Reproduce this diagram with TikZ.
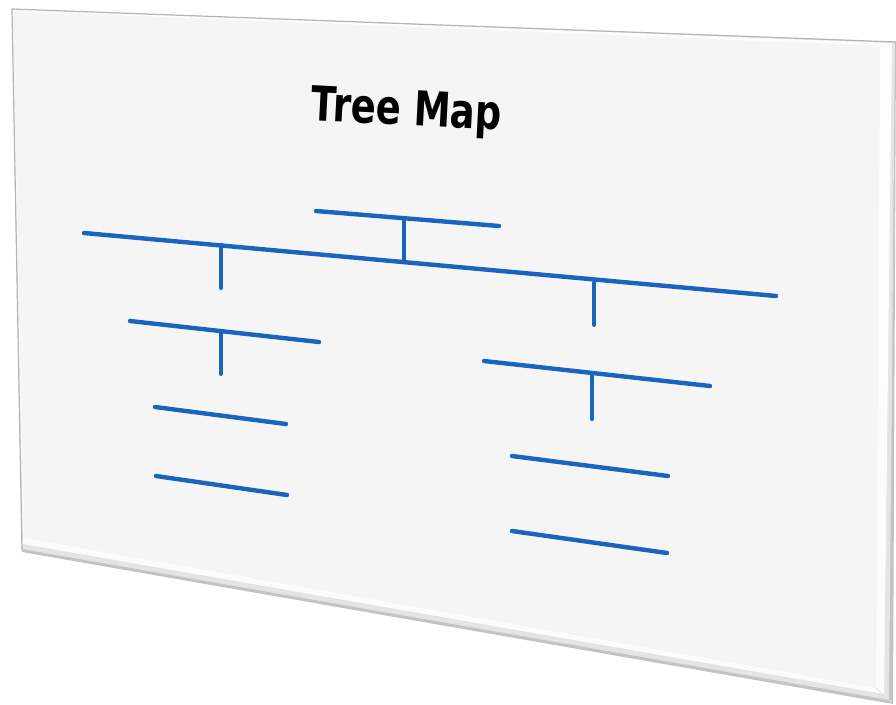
\documentclass[tikz,border=0pt]{standalone}
\usepackage{fontspec}
\newfontfamily\titlefont{DejaVu Sans}
\definecolor{treeblue}{RGB}{24,100,190}
\definecolor{faceclr}{RGB}{245,245,245}
\definecolor{bevelhi}{RGB}{252,252,252}
\definecolor{bevelmid}{RGB}{228,228,228}
\definecolor{bevellow}{RGB}{195,195,195}
\definecolor{edgeclr}{RGB}{180,180,180}
\tikzset{
  branch/.style={draw=treeblue, line width=4.4pt, line cap=round},
  stem/.style={draw=treeblue, line width=4pt, line cap=round},
}
\begin{document}
\begin{tikzpicture}[x=1pt,y=-1pt]
\useasboundingbox (0,0) rectangle (896,704);
% board with bevel
\fill[bevellow] (12,9) -- (896,42) -- (893,704) -- (22,552) -- cycle;
\fill[bevelmid] (12,9) -- (895,42) -- (889,700) -- (22,549) -- cycle;
\fill[bevelhi] (12,9) -- (892,43) -- (884,694) -- (23,544) -- cycle;
\fill[faceclr] (13,11) -- (880,46) -- (876,688) -- (24,538) -- cycle;
\draw[edgeclr, line width=1.2pt] (22,550) -- (12,9) -- (896,42);
\draw[bevelmid, line width=0.8pt] (876,688) -- (891,702);
% title
\node[anchor=base, rotate=-3, xscale=0.77, inner sep=0, font=\titlefont\bfseries\fontsize{48}{56}\selectfont] (title) at (406,125) {Tree Map};
% coordinates
\coordinate (t1) at (316,211); \coordinate (t2) at (499,226); \coordinate (tm) at (404,219);
\coordinate (m1) at (84,233);  \coordinate (m2) at (776,296);  \coordinate (mm) at (404,262);
\coordinate (ml) at (221,245); \coordinate (mr) at (594,283);
\coordinate (l1) at (130,321); \coordinate (l2) at (319,342); \coordinate (lm) at (221,332);
\coordinate (lb) at (221,288); \coordinate (ls) at (221,374);
\coordinate (r1) at (484,361); \coordinate (r2) at (710,386); \coordinate (rm) at (592,374);
\coordinate (rb) at (594,325); \coordinate (rs) at (592,419);
\coordinate (la1) at (155,407); \coordinate (la2) at (286,424);
\coordinate (lc1) at (156,476); \coordinate (lc2) at (287,495);
\coordinate (ra1) at (512,456); \coordinate (ra2) at (668,476);
\coordinate (rc1) at (512,531); \coordinate (rc2) at (667,553);
% bars
\draw[branch] (t1) -- (t2);
\draw[branch] (m1) -- (m2);
\draw[branch] (l1) -- (l2);
\draw[branch] (r1) -- (r2);
\draw[branch] (la1) -- (la2);
\draw[branch] (lc1) -- (lc2);
\draw[branch] (ra1) -- (ra2);
\draw[branch] (rc1) -- (rc2);
% stems
\draw[stem] (tm) -- (mm);
\draw[stem] (ml) -- (lb);
\draw[stem] (mr) -- (rb);
\draw[stem] (lm) -- (ls);
\draw[stem] (rm) -- (rs);
\end{tikzpicture}
\end{document}
